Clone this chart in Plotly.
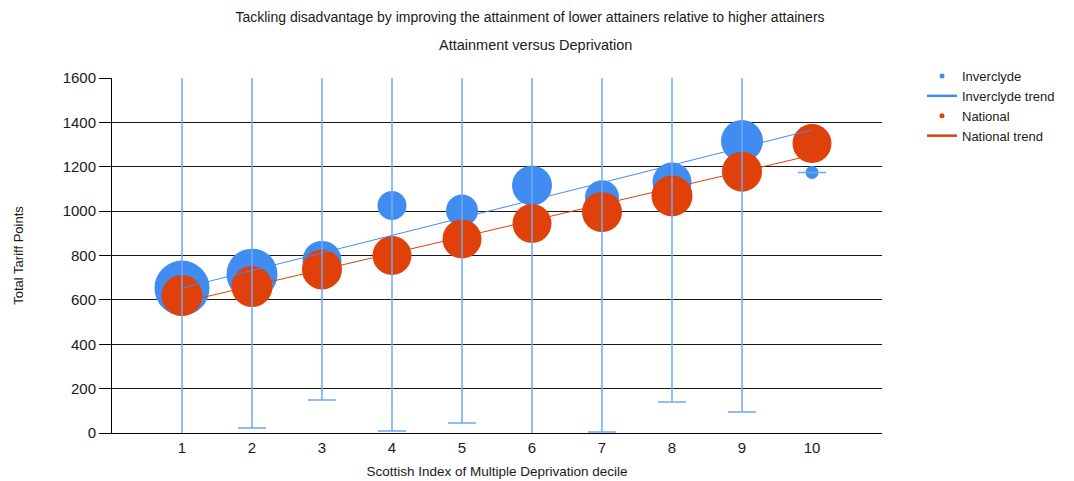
import plotly.graph_objects as go

# ---- data ----
deciles = [1, 2, 3, 4, 5, 6, 7, 8, 9, 10]
decile_labels = ["1", "2", "3", "4", "5", "6", "7", "8", "9", "10"]

inverclyde_points = [653, 716, 778, 1025, 1003, 1115, 1063, 1131, 1316, 1174]
inverclyde_sizes = [55, 51, 39, 29, 32, 40, 34, 39, 42, 13]
inverclyde_low = [-50, 22, 149, 9, 45, -50, 4, 140, 95, 1174]
inverclyde_high = [2000, 2000, 2000, 2000, 2000, 2000, 2000, 2000, 2000, 1174]

national_points = [620, 660, 737, 800, 874, 944, 996, 1069, 1178, 1305]
national_sizes = [41, 41, 40, 39, 39, 39, 40, 41, 40, 39]

trend_deciles = [1, 10]
inverclyde_trend = [653, 1366]
national_trend = [589, 1252]

# ---- styling ----
BLUE = "#418CF0"
RED = "#E0400A"
ERR = "#6FA8F5"
FONT = "Arial, Liberation Sans, sans-serif"
TXT = "#1a1a1a"

# page body has an 8px margin: figure is sized so it exactly fills the window
W, H = 1066, 473

err_plus = [h - v for h, v in zip(inverclyde_high, inverclyde_points)]
err_minus = [v - l for l, v in zip(inverclyde_low, inverclyde_points)]

fig = go.Figure()

fig.add_trace(go.Scatter(
    x=deciles, y=inverclyde_points, mode="markers", name="Inverclyde",
    marker=dict(color=BLUE, size=inverclyde_sizes, sizemode="diameter", opacity=1,
                line=dict(width=0)),
    showlegend=False))

fig.add_trace(go.Scatter(
    x=deciles, y=national_points, mode="markers", name="National",
    marker=dict(color=RED, size=national_sizes, sizemode="diameter", opacity=1,
                line=dict(width=0)),
    showlegend=False))

fig.add_trace(go.Scatter(
    x=trend_deciles, y=national_trend, mode="lines", name="National trend",
    line=dict(color=RED, width=1), showlegend=False))

fig.add_trace(go.Scatter(
    x=trend_deciles, y=inverclyde_trend, mode="lines", name="Inverclyde trend",
    line=dict(color=BLUE, width=1), showlegend=False))

# error bars on top of all bubbles
fig.add_trace(go.Scatter(
    x=deciles, y=inverclyde_points, mode="markers",
    marker=dict(size=1, opacity=0),
    error_y=dict(type="data", symmetric=False, array=err_plus, arrayminus=err_minus,
                 color=ERR, thickness=1.5, width=14),
    showlegend=False, hoverinfo="skip"))

# legend entries
fig.add_trace(go.Scatter(x=[None], y=[None], mode="markers", name="Inverclyde",
                         marker=dict(color=BLUE, size=5)))
fig.add_trace(go.Scatter(x=[None], y=[None], mode="lines", name="Inverclyde trend",
                         line=dict(color=BLUE, width=2.5)))
fig.add_trace(go.Scatter(x=[None], y=[None], mode="markers", name="National",
                         marker=dict(color=RED, size=5)))
fig.add_trace(go.Scatter(x=[None], y=[None], mode="lines", name="National trend",
                         line=dict(color=RED, width=2.5)))

fig.update_layout(
    width=W, height=H,
    margin=dict(l=104, r=192, t=70, b=48, autoexpand=False),
    paper_bgcolor="white", plot_bgcolor="white",
    font=dict(family=FONT, size=14, color=TXT),
    title=dict(text="Tackling disadvantage by improving the attainment of lower attainers relative to higher attainers",
               x=522 / W, xref="container", xanchor="center",
               y=1 - 4 / H, yref="container", yanchor="top",
               font=dict(size=14, color=TXT, family=FONT)),
    annotations=[dict(text="Attainment versus Deprivation", x=(535 - 112) / 770, xref="paper",
                      y=1 + 33 / 355, yref="paper", yanchor="middle",
                      xanchor="center", showarrow=False,
                      font=dict(size=14.5, color=TXT, family=FONT))],
    legend=dict(x=914 / W, xref="container", xanchor="left",
                y=1 - 53 / H, yref="container", yanchor="top",
                font=dict(size=13, color=TXT, family=FONT),
                bgcolor="rgba(0,0,0,0)", tracegroupgap=0),
    xaxis=dict(range=[0, 11], tickvals=deciles, ticktext=decile_labels,
               showgrid=False, zeroline=False, showline=True, linecolor="black",
               linewidth=1, ticks="outside", ticklen=1, tickcolor="rgba(0,0,0,0)",
               tickfont=dict(size=15, color=TXT), automargin=False,
               title=dict(text="Scottish Index of Multiple Deprivation decile",
                          font=dict(size=13.5, color=TXT), standoff=11)),
    yaxis=dict(range=[0, 1600], dtick=200, showgrid=True, gridcolor="#1a1a1a",
               gridwidth=1, zeroline=False, showline=True, linecolor="black",
               linewidth=1, ticks="outside", ticklen=12, tickcolor="black",
               tickfont=dict(size=15, color=TXT), automargin=False,
               title=dict(text="Total Tariff Points", font=dict(size=13, color=TXT),
                          standoff=36)),
)

fig.write_html("out.html")
